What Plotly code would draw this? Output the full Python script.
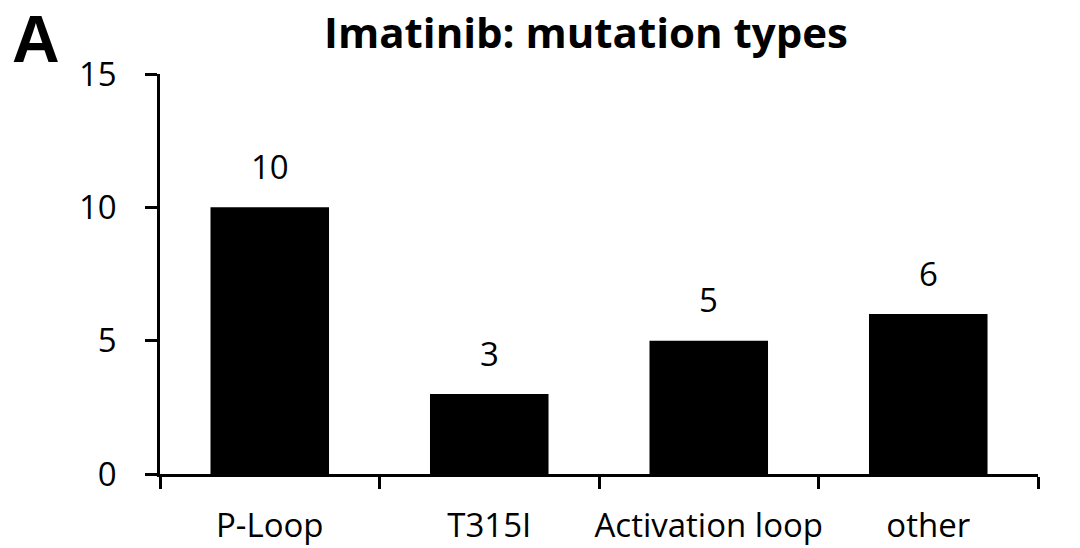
import plotly.graph_objects as go

categories = ["P-Loop", "T315I", "Activation loop", "other"]
counts = [10, 3, 5, 6]
y_ticks = [0, 5, 10, 15]

W, H = 1080, 548
L, R, T, B = 160, 42, 74, 74
FONT = "'Open Sans', Lato, sans-serif"

fig = go.Figure()
fig.add_trace(go.Bar(
    x=categories, y=counts, width=0.54,
    marker=dict(color="black", line=dict(width=0)),
    showlegend=False,
))

for c, v in zip(categories, counts):
    fig.add_annotation(x=c, y=v, text=str(v), showarrow=False,
                       yshift=41, font=dict(family=FONT, size=33, color="black"))

pw = W - L - R
fig.add_annotation(xref="paper", yref="paper",
                   x=(11 - L) / pw, y=1 + (T - 1) / (H - T - B),
                   xanchor="left", yanchor="top", text="<b>A</b>", showarrow=False,
                   borderpad=0,
                   font=dict(family="Liberation Sans, Arial, sans-serif", size=66, color="black"))

fig.update_layout(
    width=W, height=H,
    margin=dict(l=L, r=R, t=T, b=B, pad=0, autoexpand=False),
    paper_bgcolor="white", plot_bgcolor="white",
    title=dict(text="<b>Imatinib: mutation types</b>", x=586 / W, xanchor="center",
               y=1 - 33 / H, yanchor="middle",
               font=dict(family=FONT, size=42, color="black")),
    bargap=0.46,
)
fig.update_xaxes(
    showline=True, linecolor="black", linewidth=2.5, automargin=False, tickangle=0,
    ticks="outside", tickson="boundaries", ticklen=12, tickwidth=2.5, tickcolor="black",
    tickfont=dict(family=FONT, size=33, color="black"),
    ticklabelstandoff=21, showgrid=False, zeroline=False,
)
fig.update_yaxes(
    range=[0, 15], tickvals=y_ticks, automargin=False,
    showline=True, linecolor="black", linewidth=2.5,
    ticks="outside", ticklen=12, tickwidth=2.5, tickcolor="black",
    tickfont=dict(family=FONT, size=33, color="black"),
    ticklabelstandoff=22, showgrid=False, zeroline=False,
)

fig.write_html("out.html", config={"displayModeBar": False},
               post_script="document.body.style.margin='0';")
